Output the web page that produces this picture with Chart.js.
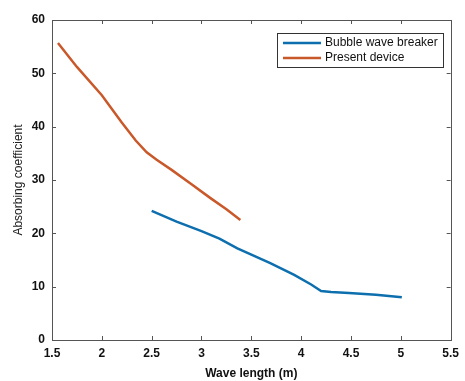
<!DOCTYPE html>
<html>
<head>
<meta charset="utf-8">
<script src="https://cdn.jsdelivr.net/npm/chart.js@4/dist/chart.umd.min.js"></script>
<style>
html,body{margin:0;padding:0;background:#fff;}
#wrap{width:465px;height:381px;}
</style>
</head>
<body>
<div id="wrap"><canvas id="c" width="465" height="381"></canvas></div>
<script>
const bubbleX = [2.50, 2.75, 3.00, 3.18, 3.36, 3.50, 3.69, 3.93, 4.10, 4.20, 4.30, 4.48, 4.75, 5.01];
const bubbleY = [24.2, 22.2, 20.4, 19.0, 17.2, 16.0, 14.4, 12.2, 10.4, 9.2, 9.0, 8.8, 8.5, 8.0];
const deviceX = [1.56, 1.75, 2.00, 2.20, 2.34, 2.45, 2.55, 2.70, 2.90, 3.09, 3.25, 3.39];
const deviceY = [55.7, 51.2, 45.9, 40.8, 37.4, 35.2, 33.8, 31.9, 29.2, 26.6, 24.5, 22.5];
const seriesNames = ["Bubble wave breaker", "Present device"];
const xTicks = [1.5, 2, 2.5, 3, 3.5, 4, 4.5, 5, 5.5];
const yTicks = [0, 10, 20, 30, 40, 50, 60];

const pts = (xs, ys) => xs.map((x, i) => ({x: x, y: ys[i]}));

const boxPlugin = {
  id: 'boxPlugin',
  afterDraw(chart) {
    const ctx = chart.ctx, a = chart.chartArea;
    const xs = chart.scales.x, ys = chart.scales.y;
    ctx.save();
    ctx.strokeStyle = '#555';
    ctx.lineWidth = 1;
    ctx.strokeRect(Math.round(a.left) + 0.5, Math.round(a.top) + 0.5, Math.round(a.right - a.left), Math.round(a.bottom - a.top));
    ctx.beginPath();
    xTicks.forEach(v => {
      const px = Math.round(xs.getPixelForValue(v)) + 0.5;
      ctx.moveTo(px, a.bottom); ctx.lineTo(px, a.bottom - 4);
      ctx.moveTo(px, a.top); ctx.lineTo(px, a.top + 4);
    });
    yTicks.forEach(v => {
      const py = Math.round(ys.getPixelForValue(v)) + 0.5;
      ctx.moveTo(a.left, py); ctx.lineTo(a.left + 4, py);
      ctx.moveTo(a.right, py); ctx.lineTo(a.right - 4, py);
    });
    ctx.stroke();
    // legend
    const lx = 277, ly = 33, lw = 166, lh = 34;
    ctx.fillStyle = '#fff';
    ctx.fillRect(lx, ly, lw, lh);
    ctx.strokeStyle = '#333';
    ctx.strokeRect(lx + 0.5, ly + 0.5, lw, lh);
    ctx.font = '12px "Liberation Sans", Arial, sans-serif';
    ctx.textBaseline = 'middle';
    chart.data.datasets.forEach((ds, i) => {
      const yy = ly + 10 + i * 15;
      ctx.strokeStyle = ds.borderColor;
      ctx.lineWidth = 2.5;
      ctx.beginPath(); ctx.moveTo(283, yy); ctx.lineTo(321, yy); ctx.stroke();
      ctx.fillStyle = '#111';
      ctx.fillText(ds.label, 325, yy);
    });
    ctx.restore();
  }
};

const tickFont = {family: '"Liberation Sans", Arial, sans-serif', size: 12, weight: 'bold'};

new Chart(document.getElementById('c'), {
  type: 'line',
  data: {
    datasets: [
      {label: seriesNames[0], data: pts(bubbleX, bubbleY), borderColor: '#0E6FAE', borderWidth: 2.5, pointRadius: 0, tension: 0, fill: false},
      {label: seriesNames[1], data: pts(deviceX, deviceY), borderColor: '#C9592A', borderWidth: 2.5, pointRadius: 0, tension: 0, fill: false}
    ]
  },
  options: {
    responsive: false,
    animation: false,
    layout: {padding: {top: 20, right: 8, left: 0, bottom: 0}},
    plugins: {legend: {display: false}, tooltip: {enabled: false}},
    scales: {
      x: {
        type: 'linear', min: 1.5, max: 5.5,
        afterBuildTicks: s => { s.ticks = xTicks.map(v => ({value: v})); },
        grid: {display: false, drawTicks: false},
        border: {display: false},
        ticks: {color: '#111', font: tickFont, padding: 6, maxRotation: 0, callback: v => String(v)},
        title: {display: true, text: 'Wave length (m)', color: '#111', font: tickFont, padding: {top: 4, bottom: 0}},
        afterFit: s => { s.height = 41; }
      },
      y: {
        type: 'linear', min: 0, max: 60,
        afterBuildTicks: s => { s.ticks = yTicks.map(v => ({value: v})); },
        grid: {display: false, drawTicks: false},
        border: {display: false},
        ticks: {color: '#111', font: tickFont, padding: 7, callback: v => String(v)},
        title: {display: true, text: 'Absorbing coefficient', color: '#222', font: {family: '"Liberation Sans", Arial, sans-serif', size: 12}, padding: {top: 11, bottom: 2}},
        afterFit: s => { s.width = 52; }
      }
    }
  },
  plugins: [boxPlugin]
});
</script>
</body>
</html>
